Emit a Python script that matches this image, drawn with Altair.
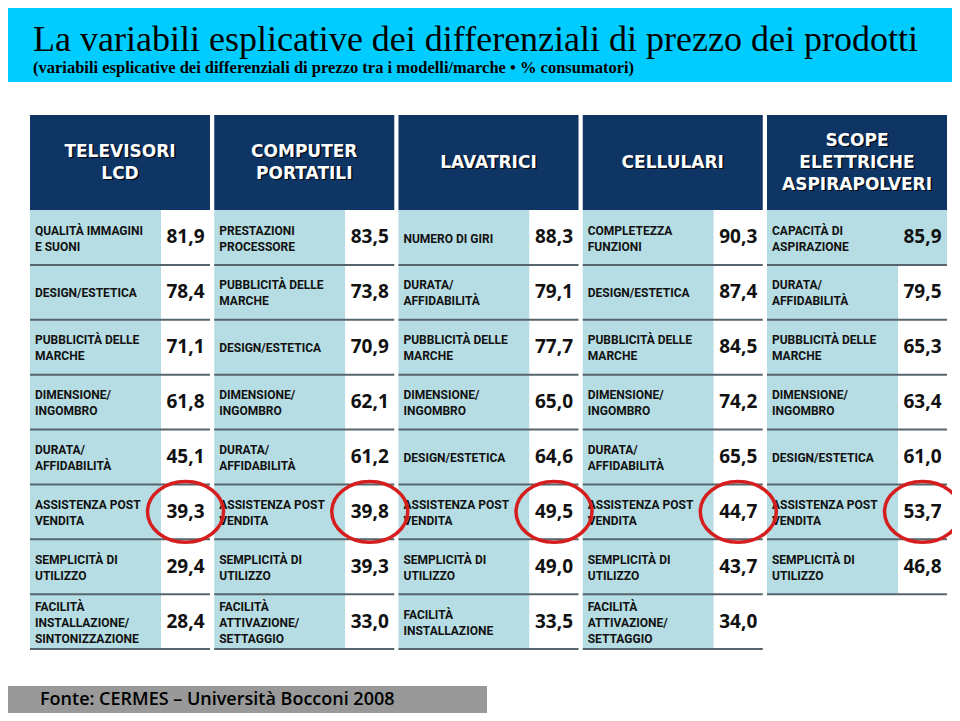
import altair as alt
import pandas as pd

title_text = "La variabili esplicative dei differenziali di prezzo dei prodotti"
subtitle_text = "(variabili esplicative dei differenziali di prezzo tra i modelli/marche \u2022 % consumatori)"
footer_text = "Fonte: CERMES \u2013 Universit\u00e0 Bocconi 2008"

categories = ["TELEVISORI\nLCD", "COMPUTER\nPORTATILI", "LAVATRICI", "CELLULARI",
              "SCOPE\nELETTRICHE\nASPIRAPOLVERI"]

labels_tv = ["QUALIT\u00c0 IMMAGINI\nE SUONI", "DESIGN/ESTETICA", "PUBBLICIT\u00c0 DELLE\nMARCHE",
             "DIMENSIONE/\nINGOMBRO", "DURATA/\nAFFIDABILIT\u00c0", "ASSISTENZA POST\nVENDITA",
             "SEMPLICIT\u00c0 DI\nUTILIZZO", "FACILIT\u00c0\nINSTALLAZIONE/\nSINTONIZZAZIONE"]
values_tv = [81.9, 78.4, 71.1, 61.8, 45.1, 39.3, 29.4, 28.4]

labels_pc = ["PRESTAZIONI\nPROCESSORE", "PUBBLICIT\u00c0 DELLE\nMARCHE", "DESIGN/ESTETICA",
             "DIMENSIONE/\nINGOMBRO", "DURATA/\nAFFIDABILIT\u00c0", "ASSISTENZA POST\nVENDITA",
             "SEMPLICIT\u00c0 DI\nUTILIZZO", "FACILIT\u00c0\nATTIVAZIONE/\nSETTAGGIO"]
values_pc = [83.5, 73.8, 70.9, 62.1, 61.2, 39.8, 39.3, 33.0]

labels_lav = ["NUMERO DI GIRI", "DURATA/\nAFFIDABILIT\u00c0", "PUBBLICIT\u00c0 DELLE\nMARCHE",
              "DIMENSIONE/\nINGOMBRO", "DESIGN/ESTETICA", "ASSISTENZA POST\nVENDITA",
              "SEMPLICIT\u00c0 DI\nUTILIZZO", "FACILIT\u00c0\nINSTALLAZIONE"]
values_lav = [88.3, 79.1, 77.7, 65.0, 64.6, 49.5, 49.0, 33.5]

labels_cel = ["COMPLETEZZA\nFUNZIONI", "DESIGN/ESTETICA", "PUBBLICIT\u00c0 DELLE\nMARCHE",
              "DIMENSIONE/\nINGOMBRO", "DURATA/\nAFFIDABILIT\u00c0", "ASSISTENZA POST\nVENDITA",
              "SEMPLICIT\u00c0 DI\nUTILIZZO", "FACILIT\u00c0\nATTIVAZIONE/\nSETTAGGIO"]
values_cel = [90.3, 87.4, 84.5, 74.2, 65.5, 44.7, 43.7, 34.0]

labels_sco = ["CAPACIT\u00c0 DI\nASPIRAZIONE", "DURATA/\nAFFIDABILIT\u00c0", "PUBBLICIT\u00c0 DELLE\nMARCHE",
              "DIMENSIONE/\nINGOMBRO", "DESIGN/ESTETICA", "ASSISTENZA POST\nVENDITA",
              "SEMPLICIT\u00c0 DI\nUTILIZZO"]
values_sco = [85.9, 79.5, 65.3, 63.4, 61.0, 53.7, 46.8]

highlight_label = "ASSISTENZA POST\nVENDITA"

all_labels = [labels_tv, labels_pc, labels_lav, labels_cel, labels_sco]
all_values = [values_tv, values_pc, values_lav, values_cel, values_sco]

rows = []
for c, (labs, vals) in enumerate(zip(all_labels, all_values)):
    for r, (lab, val) in enumerate(zip(labs, vals)):
        rows.append({"col": c, "row": r, "label": lab, "value": val})
cells = pd.DataFrame(rows)
heads = pd.DataFrame({"col": list(range(len(categories))), "name": categories})

# colours / styles
CYAN = "#00ccff"
NAVY = "#0f3565"
LBLUE = "#b6dde3"
LINE = "#56646c"
RED = "#d51f1f"

W, H = 944, 705
ROWPX = 54.875
xs = alt.Scale(domain=[0, 5], range=[22, 943.25], nice=False, zero=False)
ys = alt.Scale(domain=[0, 8], range=[202, 202 + 8 * ROWPX], nice=False, zero=False)
LW = 0.711   # label cell width (column units)
CW = 0.977   # full cell width
HT = -1.731  # header top (row units)
LBL_LH = 16
HDR_LH = 22

base = alt.Chart(cells).transform_calculate(
    x0="datum.col",
    xl="datum.col + %f" % LW,
    x1="datum.col + %f" % CW,
    xt="datum.col + 0.027",
    xc="datum.col + %f" % ((LW + CW) / 2),
    y0="datum.row",
    y1="datum.row + 1",
    yc="datum.row + 0.5",
    nl="length(split(datum.label, '\\n'))",
    vtxt="replace(format(datum.value, '.1f'), '.', ',')",
).transform_calculate(
    ylab="datum.yc - (datum.nl - 1) * %f + 0.02" % (LBL_LH / 2 / ROWPX),
)

label_rect = base.mark_rect(color=LBLUE).encode(
    x=alt.X("x0:Q", scale=xs, axis=None), x2="xl:Q",
    y=alt.Y("y0:Q", scale=ys, axis=None), y2="y1:Q",
)
value_rect = base.mark_rect().encode(
    x=alt.X("xl:Q", scale=xs, axis=None), x2="x1:Q",
    y=alt.Y("y0:Q", scale=ys, axis=None), y2="y1:Q",
    color=alt.condition("datum.col == 4 && datum.row == 0", alt.value(LBLUE), alt.value("white")),
)
row_rule = base.mark_rule(color=LINE, strokeWidth=2).encode(
    x=alt.X("x0:Q", scale=xs, axis=None), x2="x1:Q",
    y=alt.Y("y1:Q", scale=ys, axis=None),
)
label_text = base.mark_text(
    align="left", baseline="middle", lineBreak="\n", lineHeight=LBL_LH,
    font="Roboto", fontWeight="bold", fontSize=12, color="#111111",
).encode(
    x=alt.X("xt:Q", scale=xs, axis=None),
    y=alt.Y("ylab:Q", scale=ys, axis=None),
    text="label:N",
)
value_text = base.mark_text(
    align="center", baseline="middle", font="Open Sans", fontWeight="bold",
    fontSize=19, color="#111111",
).encode(
    x=alt.X("xc:Q", scale=xs, axis=None),
    y=alt.Y("yc:Q", scale=ys, axis=None),
    text="vtxt:N",
)
ellipse = base.transform_filter(
    alt.datum.label == highlight_label
).mark_point(
    shape="M -1 0 A 1 0.8 0 1 0 1 0 A 1 0.8 0 1 0 -1 0 Z",
    filled=False, stroke=RED, strokeWidth=3.5, opacity=1,
).encode(
    x=alt.X("xc:Q", scale=xs, axis=None),
    y=alt.Y("yc:Q", scale=ys, axis=None),
    size=alt.value(5776),
)

hbase = alt.Chart(heads).transform_calculate(
    x0="datum.col", x1="datum.col + %f" % CW, xc="datum.col + %f" % (CW / 2),
    yt=str(HT), yb="0",
    nl="length(split(datum.name, '\\n'))",
).transform_calculate(
    yc="%f - (datum.nl - 1) * %f" % (HT / 2, HDR_LH / 2 / ROWPX),
)
head_rect = hbase.mark_rect(color=NAVY).encode(
    x=alt.X("x0:Q", scale=xs, axis=None), x2="x1:Q",
    y=alt.Y("yt:Q", scale=ys, axis=None), y2="yb:Q",
)
head_shadow = hbase.mark_text(
    align="center", baseline="middle", lineBreak="\n", lineHeight=HDR_LH,
    font="DejaVu Sans", fontWeight="bold", fontSize=17, color="#000000", opacity=0.8,
    dx=1.5, dy=1.5,
).encode(
    x=alt.X("xc:Q", scale=xs, axis=None),
    y=alt.Y("yc:Q", scale=ys, axis=None),
    text="name:N",
)
head_text = hbase.mark_text(
    align="center", baseline="middle", lineBreak="\n", lineHeight=HDR_LH,
    font="DejaVu Sans", fontWeight="bold", fontSize=17, color="white",
).encode(
    x=alt.X("xc:Q", scale=xs, axis=None),
    y=alt.Y("yc:Q", scale=ys, axis=None),
    text="name:N",
)

tdf = pd.DataFrame({"title": [title_text], "subtitle": [subtitle_text], "footer": [footer_text]})
tbase = alt.Chart(tdf)
band = tbase.mark_rect(color=CYAN).encode(
    x=alt.value(0), x2=alt.value(W), y=alt.value(0), y2=alt.value(74))
title = tbase.mark_text(align="left", baseline="alphabetic", font="Liberation Serif",
                        fontSize=36, color="black").encode(
    x=alt.value(25), y=alt.value(43), text="title:N")
subtitle = tbase.mark_text(align="left", baseline="alphabetic", font="Liberation Serif",
                           fontWeight="bold", fontSize=16.5, color="black").encode(
    x=alt.value(25), y=alt.value(65), text="subtitle:N")
fbox = tbase.mark_rect(color="#999999").encode(
    x=alt.value(0), x2=alt.value(479), y=alt.value(678), y2=alt.value(H))
ftext = tbase.mark_text(align="left", baseline="middle", font="Open Sans", fontWeight=600,
                        fontSize=18, color="black").encode(
    x=alt.value(32), y=alt.value(692), text="footer:N")

chart = alt.layer(
    band, title, subtitle,
    head_rect, head_shadow, head_text,
    label_rect, value_rect, row_rule, label_text, value_text, ellipse,
    fbox, ftext,
).properties(
    width=W, height=H, padding=0, autosize=alt.AutoSizeParams(type="none"),
    background="white",
).configure_view(stroke=None)

chart.save("out.html", embed_options={"renderer": "svg", "actions": False})
